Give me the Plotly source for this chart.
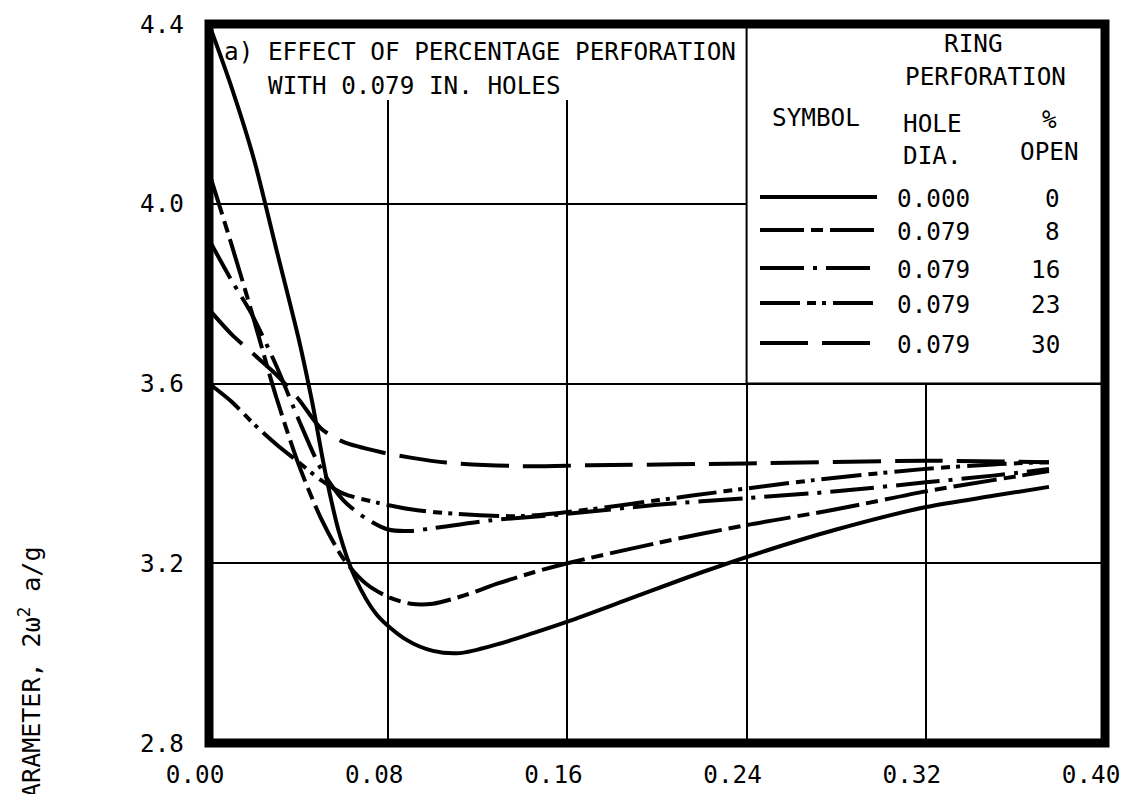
import plotly.graph_objects as go

# ---- data: frequency parameter vs. x for each ring perforation ----
x_0 = [0.000, 0.010, 0.020, 0.030, 0.040, 0.046, 0.052, 0.058, 0.065, 0.075, 0.088, 0.100,
       0.112, 0.129, 0.145, 0.160, 0.190, 0.220, 0.250, 0.280, 0.320, 0.350, 0.375]
y_0 = [4.40, 4.26, 4.10, 3.90, 3.70, 3.56, 3.40, 3.27, 3.17, 3.085, 3.03, 3.005,
       3.00, 3.02, 3.045, 3.07, 3.125, 3.18, 3.23, 3.275, 3.325, 3.35, 3.37]

x_8 = [0.000, 0.010, 0.019, 0.030, 0.040, 0.050, 0.060, 0.070, 0.080, 0.090, 0.100, 0.115,
       0.129, 0.145, 0.160, 0.200, 0.240, 0.280, 0.320, 0.350, 0.375]
y_8 = [4.07, 3.91, 3.76, 3.57, 3.42, 3.30, 3.21, 3.155, 3.125, 3.11, 3.11, 3.13,
       3.155, 3.18, 3.20, 3.245, 3.285, 3.32, 3.36, 3.385, 3.405]

x_16 = [0.000, 0.010, 0.019, 0.030, 0.040, 0.050, 0.060, 0.070, 0.080, 0.090, 0.100, 0.125,
        0.160, 0.200, 0.240, 0.280, 0.320, 0.350, 0.375]
y_16 = [3.92, 3.83, 3.755, 3.64, 3.52, 3.41, 3.34, 3.30, 3.275, 3.272, 3.278, 3.295,
        3.31, 3.33, 3.345, 3.36, 3.38, 3.395, 3.41]

x_23 = [0.000, 0.010, 0.020, 0.030, 0.040, 0.050, 0.060, 0.075, 0.090, 0.110, 0.140, 0.170,
        0.200, 0.230, 0.270, 0.320, 0.350, 0.375]
y_23 = [3.60, 3.56, 3.51, 3.465, 3.425, 3.385, 3.355, 3.335, 3.32, 3.31, 3.305, 3.32,
        3.34, 3.36, 3.385, 3.41, 3.42, 3.425]

x_30 = [0.000, 0.010, 0.020, 0.030, 0.040, 0.050, 0.060, 0.077, 0.090, 0.106, 0.140, 0.170,
        0.240, 0.320, 0.375]
y_30 = [3.765, 3.71, 3.665, 3.62, 3.565, 3.50, 3.47, 3.447, 3.435, 3.424, 3.416, 3.418,
        3.422, 3.428, 3.425]

hole_dia = ["0.000", "0.079", "0.079", "0.079", "0.079"]
pct_open = ["0", "8", "16", "23", "30"]

x_ticks = [0.00, 0.08, 0.16, 0.24, 0.32, 0.40]
y_ticks = [2.8, 3.2, 3.6, 4.0, 4.4]

# ---- styling ----
FONT = "DejaVu Sans Mono"
FS = 24.3
LW = 4
dashes = ["solid", "44px,7px,12px,7px", "44px,9px,4px,9px",
          "40px,7px,9px,6px,4px,7px", "48px,14px"]
series = [(x_0, y_0), (x_8, y_8), (x_16, y_16), (x_23, y_23), (x_30, y_30)]

W, H = 1122, 794
L, R, T, B = 209, 1105, 24, 743   # plot area in pixels


def px(xp):
    return (xp - L) / (R - L)


def py(yp):
    return (B - yp) / (B - T)


fig = go.Figure()
for (xs, ys), d in zip(series, dashes):
    fig.add_trace(go.Scatter(
        x=xs, y=ys, mode="lines",
        line=dict(color="black", width=LW, dash=d, shape="spline", smoothing=0.8),
        showlegend=False, hoverinfo="skip"))

shapes = []
# white boxes for the caption and the key table (above grid, below curves)
shapes.append(dict(type="rect", xref="x", yref="y", x0=0.0, x1=0.24, y0=4.231, y1=4.4,
                   fillcolor="white", line=dict(width=0), layer="between"))
shapes.append(dict(type="rect", xref="x", yref="y", x0=0.24, x1=0.40, y0=3.6, y1=4.4,
                   fillcolor="white", line=dict(color="black", width=2), layer="between"))

# table rules
tcol1, tcol2 = px(885), px(998)
t_head, t_ring = py(168), py(100)
for x0, x1, y0, y1 in [
    (tcol1, tcol1, py(383), 1.0),
    (tcol2, tcol2, py(383), t_ring),
    (tcol1, 1.0, t_ring, t_ring),
    (px(747), 1.0, t_head, t_head),
]:
    shapes.append(dict(type="line", xref="paper", yref="paper", x0=x0, x1=x1, y0=y0, y1=y1,
                       line=dict(color="black", width=2.5), layer="between"))

# key line samples
row_y = [197, 230, 268, 303, 343]
for ry, d in zip(row_y, dashes):
    shapes.append(dict(type="line", xref="paper", yref="paper",
                       x0=px(760), x1=px(877), y0=py(ry), y1=py(ry),
                       line=dict(color="black", width=LW, dash=d), layer="above"))

# heavy frame
shapes.append(dict(type="rect", xref="paper", yref="paper", x0=0, x1=1, y0=0, y1=1,
                   line=dict(color="black", width=9), layer="above"))

ann = []


def text(s, xp, yp, xanchor="center", align="center"):
    ann.append(dict(text=s, xref="paper", yref="paper", x=px(xp), y=py(yp),
                    xanchor=xanchor, yanchor="middle", align=align, showarrow=False,
                    font=dict(family=FONT, size=FS, color="black")))


text("a) EFFECT OF PERCENTAGE PERFORATION", 222, 52, "left")
text("WITH 0.079 IN. HOLES", 266, 85, "left")
text("RING", 973, 43)
text("PERFORATION", 985, 77)
text("SYMBOL", 816, 117)
text("HOLE<br>DIA.", 901, 140, "left", "left")
text("%<br>OPEN", 1049, 135)
for ry, hd, po in zip(row_y, hole_dia, pct_open):
    text(hd, 895, ry + 1, "left")
    text(po, 1062, ry + 1, "right")

# vertical axis title (runs off the bottom of the page)
ann.append(dict(text="FREQUENCY PARAMETER, 2\u03c9<sup>2</sup> a/g", textangle=-90,
                xref="paper", yref="paper", x=px(30), y=py(545),
                xanchor="center", yanchor="top", showarrow=False,
                font=dict(family=FONT, size=25, color="black")))

fig.update_layout(
    width=W, height=H,
    margin=dict(l=L, r=W - R, t=T, b=H - B, autoexpand=False),
    paper_bgcolor="white", plot_bgcolor="white",
    shapes=shapes, annotations=ann,
    xaxis=dict(range=[0, 0.40], tickvals=x_ticks, tickformat=".2f", automargin=False,
               showgrid=True, gridcolor="black", gridwidth=2, zeroline=False,
               showline=False, ticks="", ticklabelstandoff=15, ticklabelshift=-14,
               tickfont=dict(family=FONT, size=FS, color="black")),
    yaxis=dict(range=[2.8, 4.4], tickvals=y_ticks, tickformat=".1f", automargin=False,
               showgrid=True, gridcolor="black", gridwidth=2, zeroline=False,
               showline=False, ticks="", ticklabelstandoff=24,
               tickfont=dict(family=FONT, size=FS, color="black")),
)

fig.write_html("out.html")
